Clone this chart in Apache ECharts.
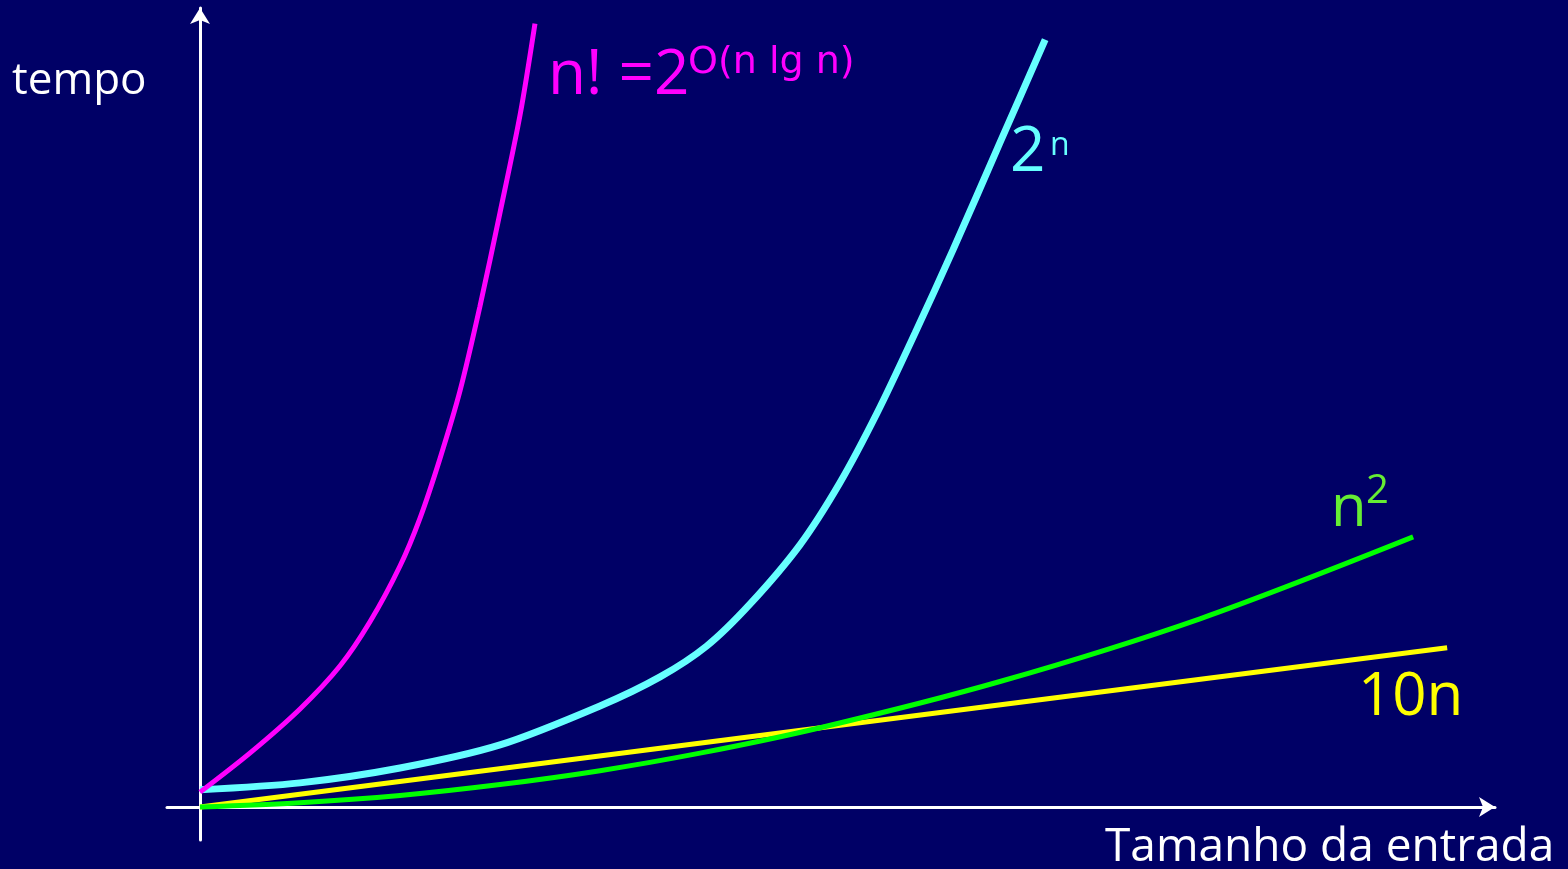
<!DOCTYPE html>
<html>
<head>
<meta charset="utf-8">
<script src="https://cdn.jsdelivr.net/npm/echarts@6/dist/echarts.min.js"></script>
<style>
html,body{margin:0;padding:0;background:#000066;}
#chart{width:1568px;height:869px;}
</style>
</head>
<body>
<div id="chart"></div>
<script>
// Data (x = tamanho da entrada, y = tempo)
var factorialPts = [[0,0.45],[1.52,1.64],[3.03,2.97],[4.24,4.27],[5.15,5.61],[6.06,7.30],[6.67,8.76],[7.27,10.55],[7.88,12.61],[8.48,15.15],[9.09,18.00],[9.70,20.97],[10.15,23.73]];
var expPts = [[0,0.52],[3.03,0.73],[6.06,1.18],[9.09,1.88],[12.12,3.06],[13.94,3.94],[15.36,4.88],[16.67,6.15],[18.18,7.94],[19.39,9.82],[20.52,11.94],[21.67,14.36],[22.82,16.88],[24.24,20.12],[25.61,23.24]];
var quadPts = [[0,0],[3.03,0.13],[6.06,0.35],[9.09,0.68],[12.12,1.10],[15.15,1.63],[18.79,2.40],[24.24,3.80],[30.3,5.70],[36.76,8.18]];
var linPts = [[0,0],[37.79,4.82]];
var xRange = [-1, 39.24];
var yRange = [-1, 24.2];

var FONT = "'Open Sans', 'DejaVu Sans', sans-serif";
var FONT2 = "'DejaVu Sans', sans-serif";
var chart = echarts.init(document.getElementById('chart'), null, {renderer:'canvas'});
function axisCommon(){
  return {
    type:'value',
    axisLine:{show:true,onZero:true,symbol:['none','arrow'],symbolSize:[15,16],lineStyle:{color:'#ffffff',width:3}},
    axisTick:{show:false},axisLabel:{show:false},splitLine:{show:false}
  };
}
var xa = axisCommon(); xa.min = xRange[0]; xa.max = xRange[1];
var ya = axisCommon(); ya.min = yRange[0]; ya.max = yRange[1];
function txt(x,y,s,size,color,font){
  return {type:'text',left:x,top:y,style:{text:s,fill:color,font:'normal '+size+'px '+(font||FONT),textVerticalAlign:'top'}};
}
function curve(data,color,width,z){
  return {type:'line',data:data,smooth:0.3,showSymbol:false,lineStyle:{color:color,width:width,cap:'butt'},z:z};
}
chart.setOption({
  backgroundColor:'#000066',
  animation:false,
  grid:{left:167,right:73,top:8,bottom:29},
  xAxis:xa,
  yAxis:ya,
  series:[
    curve(linPts,'#ffff00',5,2),
    curve(quadPts,'#00ff00',5,3),
    curve(expPts,'#66ffff',7,4),
    curve(factorialPts,'#ff00ff',5,5)
  ],
  graphic:[
    txt(12,59,'tempo',44,'#ffffff'),
    txt(548,45,'n! =2',62,'#ff00ff'),
    txt(688,44,'O(n lg n)',38,'#ff00ff',FONT2),
    txt(1010,122,'2',62,'#66ffff'),
    txt(1050,130,'n',32,'#66ffff'),
    txt(1331,480,'n',58,'#66ee33'),
    txt(1366,472,'2',40,'#66ee33'),
    txt(1358,668,'10n',60,'#ffff00'),
    txt(1105,825,'Tamanho da entrada',46,'#ffffff')
  ]
});
</script>
</body>
</html>
